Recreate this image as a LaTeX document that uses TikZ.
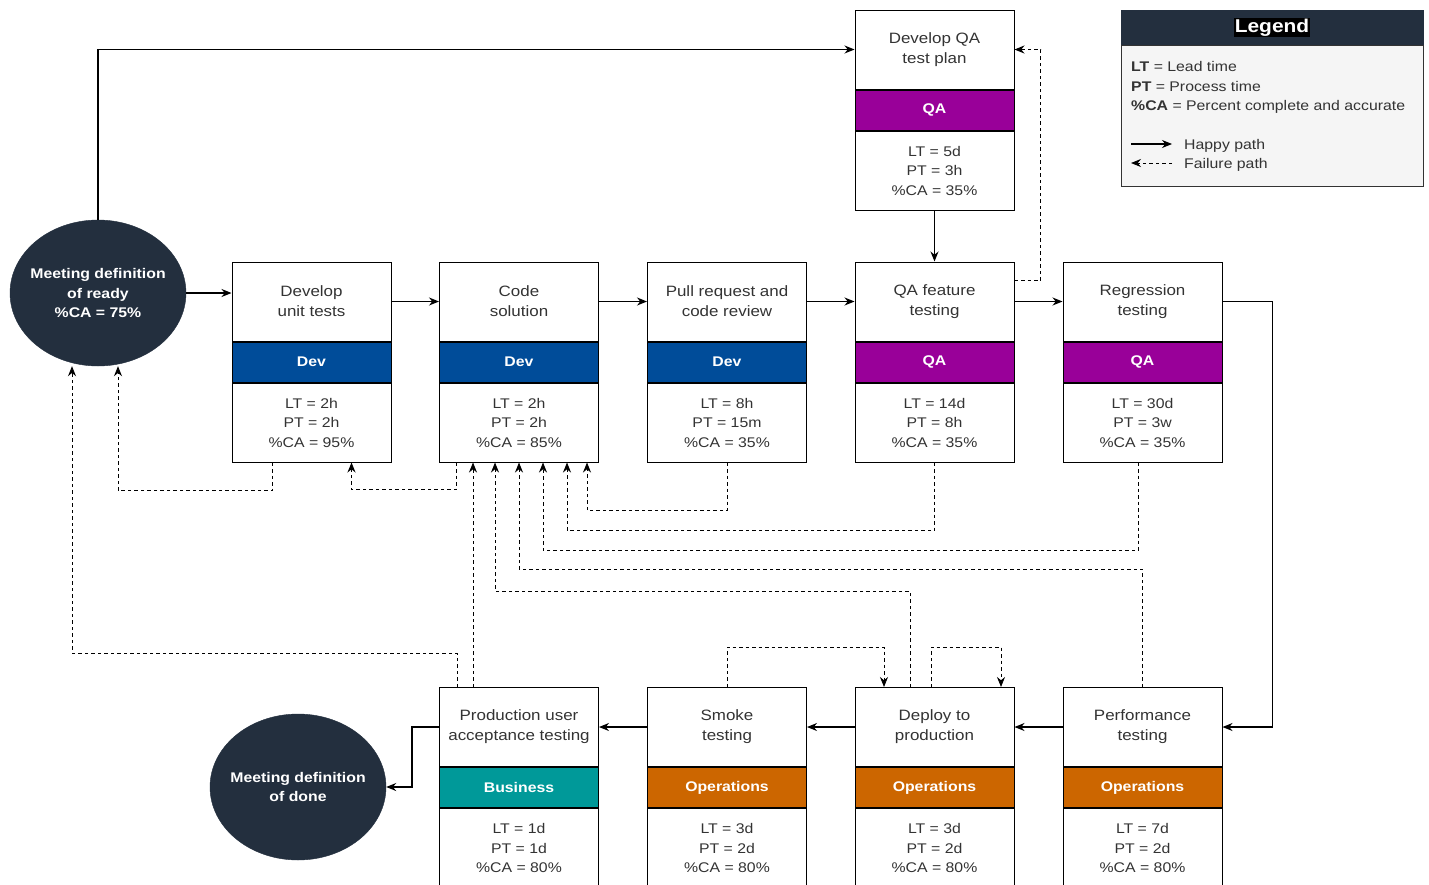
\documentclass[tikz,border=0pt]{standalone}
\usepackage{fontspec}
\setmainfont{Liberation Sans}[FakeStretch=1.13]
\usetikzlibrary{positioning,arrows.meta,shapes.geometric}
\definecolor{squid}{HTML}{232F3E}
\definecolor{devblue}{HTML}{004C99}
\definecolor{qapurple}{HTML}{990099}
\definecolor{bizteal}{HTML}{009999}
\definecolor{opsorange}{HTML}{CC6600}
\definecolor{txtgray}{HTML}{333333}
\definecolor{legendbg}{HTML}{F5F5F5}
\tikzset{
  stage/.style={draw, line width=1pt, minimum width=159pt, minimum height=79pt, inner sep=0pt, align=center, text=txtgray, font=\fontsize{15}{20}\selectfont},
  team/.style={draw, line width=1pt, minimum width=159pt, minimum height=40pt, inner sep=0pt, text=white, font=\bfseries\fontsize{14}{18}\selectfont},
  metrics/.style={draw, line width=1pt, minimum width=159pt, minimum height=79pt, inner sep=0pt, align=center, text=txtgray, font=\fontsize{14}{19.5}\selectfont},
  milestone/.style={ellipse, draw=squid, fill=squid, minimum width=176pt, minimum height=146pt, inner sep=0pt},
  milestonetxt/.style={align=center, text=white, inner sep=0pt, font=\bfseries\fontsize{14}{19.5}\selectfont},
  happy/.style={line width=1.1pt, -{Stealth[length=10pt,width=8pt]}},
  failure/.style={line width=0.9pt, dash pattern=on 3.5pt off 3pt, -{Stealth[length=10pt,width=8pt]}},
  legendtxt/.style={anchor=base west, inner sep=0pt, text=txtgray, font=\fontsize{14}{19.5}\selectfont}
}
\begin{document}
\begin{tikzpicture}[x=1pt, y=-1pt]
  \useasboundingbox (0,0) rectangle (1429,884);

  \node[milestone, label={[milestonetxt]center:Meeting definition\\of ready\\\%CA = 75\%}] (ready) at (98,293) {};
  \node[milestone, label={[milestonetxt]center:Meeting definition\\of done}] (done) at (298,787) {};

  \node[stage] (qaplan) at (934.5,49.5) {Develop QA\\test plan};
  \node[team, fill=qapurple, below=0pt of qaplan] (qaplanteam) {QA};
  \node[metrics, below=0pt of qaplanteam] (qaplanm) {LT = 5d\\PT = 3h\\\%CA = 35\%};

  \node[stage] (unit) at (311.5,301.5) {Develop\\unit tests};
  \node[team, fill=devblue, below=0pt of unit] (unitteam) {Dev};
  \node[metrics, below=0pt of unitteam] (unitm) {LT = 2h\\PT = 2h\\\%CA = 95\%};

  \node[stage] (code) at (519,301.5) {Code\\solution};
  \node[team, fill=devblue, below=0pt of code] (codeteam) {Dev};
  \node[metrics, below=0pt of codeteam] (codem) {LT = 2h\\PT = 2h\\\%CA = 85\%};

  \node[stage] (pr) at (727,301.5) {Pull request and\\code review};
  \node[team, fill=devblue, below=0pt of pr] (prteam) {Dev};
  \node[metrics, below=0pt of prteam] (prm) {LT = 8h\\PT = 15m\\\%CA = 35\%};

  \node[stage] (qaf) at (934.5,301.5) {QA feature\\testing};
  \node[team, fill=qapurple, below=0pt of qaf] (qafteam) {QA};
  \node[metrics, below=0pt of qafteam] (qafm) {LT = 14d\\PT = 8h\\\%CA = 35\%};

  \node[stage] (reg) at (1142.5,301.5) {Regression\\testing};
  \node[team, fill=qapurple, below=0pt of reg] (regteam) {QA};
  \node[metrics, below=0pt of regteam] (regm) {LT = 30d\\PT = 3w\\\%CA = 35\%};

  \node[stage] (uat) at (519,727) {Production user\\acceptance testing};
  \node[team, fill=bizteal, below=0pt of uat] (uatteam) {Business};
  \node[metrics, below=0pt of uatteam] (uatm) {LT = 1d\\PT = 1d\\\%CA = 80\%};

  \node[stage] (smoke) at (727,727) {Smoke\\testing};
  \node[team, fill=opsorange, below=0pt of smoke] (smoketeam) {Operations};
  \node[metrics, below=0pt of smoketeam] (smokem) {LT = 3d\\PT = 2d\\\%CA = 80\%};

  \node[stage] (deploy) at (934.5,727) {Deploy to\\production};
  \node[team, fill=opsorange, below=0pt of deploy] (deployteam) {Operations};
  \node[metrics, below=0pt of deployteam] (deploym) {LT = 3d\\PT = 2d\\\%CA = 80\%};

  \node[stage] (perf) at (1142.5,727) {Performance\\testing};
  \node[team, fill=opsorange, below=0pt of perf] (perfteam) {Operations};
  \node[metrics, below=0pt of perfteam] (perfm) {LT = 7d\\PT = 2d\\\%CA = 80\%};

  \node[draw=squid, fill=squid, minimum width=302pt, minimum height=35pt, inner sep=0pt] (lghead) at (1272,27.5) {};
  \node[draw=txtgray, fill=legendbg, minimum width=302pt, minimum height=141pt, inner sep=0pt, below=0pt of lghead] (lgbody) {};
  \node[fill=black, inner sep=1pt, text=white, font=\bfseries\fontsize{18.5}{22}\selectfont] (lgtitle) at (lghead) {Legend};
  \node[legendtxt] (lglt) at (1131,71) {\textbf{LT} = Lead time};
  \node[legendtxt] (lgpt) at (1131,91) {\textbf{PT} = Process time};
  \node[legendtxt] (lgca) at (1131,110) {\textbf{\%CA} = Percent complete and accurate};
  \node[legendtxt] (lghappy) at (1184,149) {Happy path};
  \node[legendtxt] (lgfail) at (1184,168) {Failure path};
  \draw[happy] ([xshift=-53pt, yshift=5pt]lghappy.base west) -- ([xshift=-12pt, yshift=5pt]lghappy.base west);
  \draw[failure] ([xshift=-12pt, yshift=5pt]lgfail.base west) -- ([xshift=-53pt, yshift=5pt]lgfail.base west);

  \draw[happy] (ready.east) -- (unit.west |- ready.east);
  \draw[happy] (ready.north) |- (qaplan.west);
  \draw[happy] (unit) -- (code);
  \draw[happy] (code) -- (pr);
  \draw[happy] (pr) -- (qaf);
  \draw[happy] (qaf) -- (reg);
  \draw[happy] (qaplanm) -- (qaf);
  \draw[happy] (reg.east) -- ++(50,0) |- (perf.east);
  \draw[happy] (perf) -- (deploy);
  \draw[happy] (deploy) -- (smoke);
  \draw[happy] (smoke) -- (uat);
  \draw[happy] (uat.west) -- ++(-27,0) |- (done.east);

  \draw[failure] ([yshift=-19pt]qaf.north east) -- ++(26,0) |- (qaplan.east);
  \draw[failure] ([xshift=-39.5pt]unitm.south) -- ++(0,28) -| ([xshift=20pt]ready.south);
  \draw[failure] ([xshift=-63pt]codem.south) -- ++(0,27) -| ([xshift=40pt]unitm.south);
  \draw[failure] (prm.south) -- ++(0,48) -| ([xshift=68pt]codem.south);
  \draw[failure] (qafm.south) -- ++(0,68) -| ([xshift=48pt]codem.south);
  \draw[failure] ([xshift=-4.5pt]regm.south) -- ++(0,88) -| ([xshift=24pt]codem.south);
  \draw[failure] (perf.north) -- ++(0,-118) -| (codem.south);
  \draw[failure] ([xshift=-24.5pt]deploy.north) -- ++(0,-96) -| ([xshift=-24pt]codem.south);
  \draw[failure] ([xshift=-46pt]uat.north) -- ([xshift=-46pt]codem.south);
  \draw[failure] ([xshift=-62pt]uat.north) -- ++(0,-34) -| ([xshift=-26pt]ready.south);
  \draw[failure] (smoke.north) -- ++(0,-40) -| ([xshift=-50.5pt]deploy.north);
  \draw[failure] ([xshift=-3.5pt]deploy.north) -- ++(0,-40) -| ([xshift=66.5pt]deploy.north);
\end{tikzpicture}
\end{document}
